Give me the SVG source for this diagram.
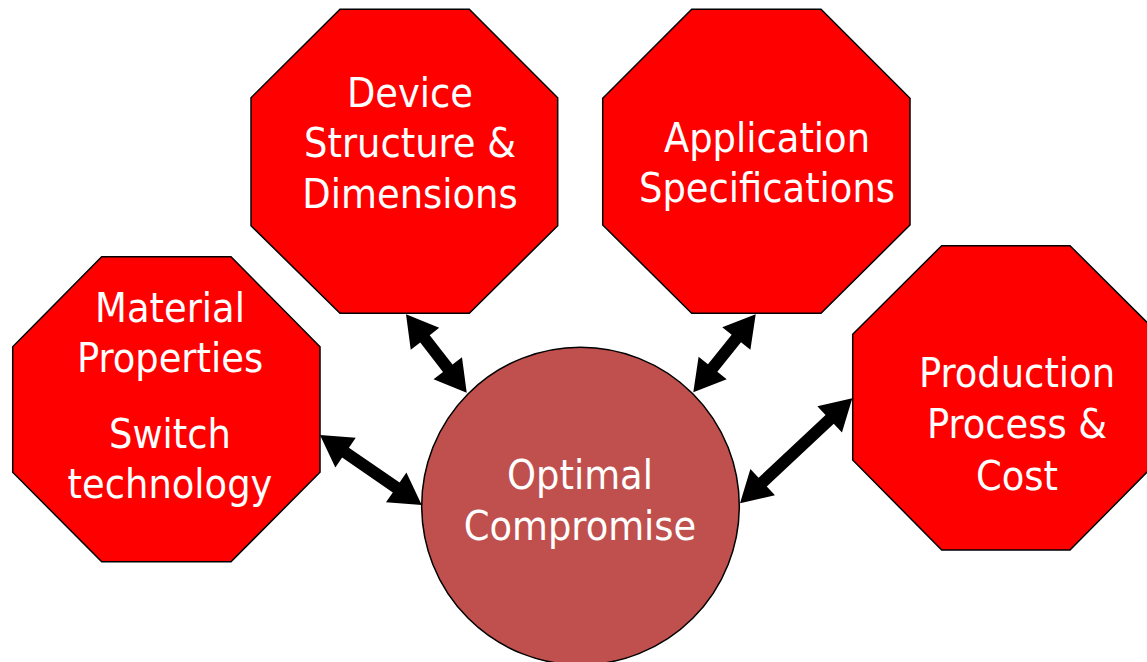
<svg xmlns="http://www.w3.org/2000/svg" width="1147" height="662" viewBox="0 0 1147 662">
<style>
.oct{fill:#FF0000;stroke:#000;stroke-width:1.5}
.circ{fill:#C0504D;stroke:#000;stroke-width:1.5}
.t{font-family:"DejaVu Sans Condensed","DejaVu Sans",sans-serif;font-stretch:condensed;font-size:41px;fill:#fff;text-anchor:middle}
.arr{fill:#000}
</style>
<rect width="1147" height="662" fill="#fff"/>
<g id="material">
<polygon class="oct" points="101.7,256.7 231,256.7 320,346.7 320,472.3 231,561.7 101.7,561.7 12.7,472.3 12.7,346.7"/>
<text class="t" x="170" y="321.7">Material</text>
<text class="t" x="170" y="371.7">Properties</text>
<text class="t" x="170" y="448.3">Switch</text>
<text class="t" x="170" y="498.3">technology</text>
</g>
<g id="device">
<polygon class="oct" points="340,9.3 469.3,9.3 557.7,97.7 557.7,225.7 469.3,313.3 340,313.3 251,225.7 251,97.7"/>
<text class="t" x="410" y="106.7">Device</text>
<text class="t" x="410" y="156.7">Structure &amp;</text>
<text class="t" x="410" y="208">Dimensions</text>
</g>
<g id="application">
<polygon class="oct" points="691.7,9.3 821,9.3 910,98.3 910,225 821,313.3 691.7,313.3 602.7,225 602.7,98.3"/>
<text class="t" x="767" y="151.7">Application</text>
<text class="t" x="767" y="201.7">Specifications</text>
</g>
<g id="production">
<polygon class="oct" points="941.7,245.7 1070,245.7 1159,334.3 1159,460 1070,550 941.7,550 852.7,460 852.7,334.3"/>
<text class="t" x="1017" y="387.3">Production</text>
<text class="t" x="1017" y="438.3">Process &amp;</text>
<text class="t" x="1017" y="490">Cost</text>
</g>
<g id="optimal">
<circle class="circ" cx="580.5" cy="506" r="158.8"/>
<text class="t" x="580" y="489.3">Optimal</text>
<text class="t" x="580" y="540">Compromise</text>
</g>
<g id="connectors">
<polygon class="arr" transform="translate(406,314.3) rotate(52.25)" points="0,0 31,-18 31,-6 68.2,-6 68.2,-18 99.2,0 68.2,18 68.2,6 31,6 31,18"/>
<polygon class="arr" transform="translate(755.7,314.3) rotate(128.66)" points="0,0 31,-18 31,-6 68.9,-6 68.9,-18 99.9,0 68.9,18 68.9,6 31,6 31,18"/>
<polygon class="arr" transform="translate(320,435) rotate(34.54)" points="0,0 31,-18 31,-6 92.5,-6 92.5,-18 123.5,0 92.5,18 92.5,6 31,6 31,18"/>
<polygon class="arr" transform="translate(852.3,398.3) rotate(136.92)" points="0,0 31,-18 31,-6 122.7,-6 122.7,-18 153.7,0 122.7,18 122.7,6 31,6 31,18"/>
</g>
</svg>
